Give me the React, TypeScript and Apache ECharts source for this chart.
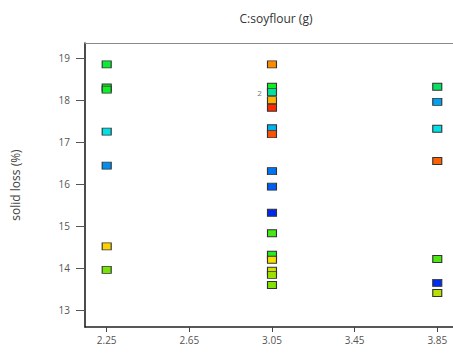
import React, { useEffect, useRef } from "react";
import * as echarts from "echarts";

// soy flour levels (g)
const xTicks = [2.25, 2.65, 3.05, 3.45, 3.85];
const yTicks = [13, 14, 15, 16, 17, 18, 19];

// observed solid loss (%) at each soy flour level
const soyflour = [
  2.25, 2.25, 2.25, 2.25, 2.25, 2.25, 2.25,
  3.05, 3.05, 3.05, 3.05, 3.05, 3.05, 3.05, 3.05, 3.05, 3.05, 3.05, 3.05, 3.05, 3.05, 3.05, 3.05,
  3.85, 3.85, 3.85, 3.85, 3.85, 3.85, 3.85,
];
const solidLoss = [
  18.85, 18.3, 18.25, 17.25, 16.44, 14.52, 13.96,
  18.85, 18.32, 18.19, 18.0, 17.82, 17.33, 17.19, 16.31, 15.94, 15.32, 14.83, 14.32, 14.2, 13.94, 13.84, 13.6,
  18.32, 17.96, 17.32, 16.55, 14.22, 13.65, 13.41,
];
// colour-coded response level (0 = low / blue, 1 = high / red)
const colourLevel = [
  0.47, 0.49, 0.49, 0.26, 0.16, 0.77, 0.6,
  0.86, 0.5, 0.33, 0.81, 0.97, 0.2, 0.93, 0.13, 0.1, 0.03, 0.55, 0.52, 0.74, 0.7, 0.64, 0.61,
  0.4, 0.18, 0.26, 0.91, 0.56, 0.04, 0.67,
];
// replicate counts (shown when > 1)
const replicates = [
  1, 1, 1, 1, 1, 1, 1,
  1, 1, 2, 1, 1, 1, 1, 1, 1, 1, 1, 1, 1, 1, 1, 1,
  1, 1, 1, 1, 1, 1, 1,
];

const FONT = "'Open Sans', 'Noto Sans', sans-serif";
const X_MIN = 2.145;
const X_MAX = 3.96;

export default function App() {
  const ref = useRef<HTMLDivElement>(null);
  useEffect(() => {
    if (!ref.current) return;
    document.body.style.overflow = "hidden";
    const chart = echarts.init(ref.current, undefined, { renderer: "svg" });
    const data = soyflour.map((x, i) => {
      const item: any = { value: [x, solidLoss[i], colourLevel[i]] };
      if (replicates[i] > 1) {
        item.label = {
          show: true,
          position: "left",
          distance: 5,
          formatter: String(replicates[i]),
          fontSize: 8,
          color: "#777",
          fontFamily: FONT,
        };
      }
      return item;
    });
    chart.setOption({
      animation: false,
      backgroundColor: "#ffffff",
      title: {
        text: "C:soyflour (g)",
        left: 271,
        textAlign: "center",
        top: 7,
        textStyle: { fontSize: 12, fontWeight: "normal", color: "#333", fontFamily: FONT },
      },
      grid: {
        left: 85,
        right: 0,
        top: 43,
        bottom: 27,
        show: false,
      },
      visualMap: {
        show: false,
        dimension: 2,
        min: 0,
        max: 1,
        inRange: {
          color: [
            "#0010f0",
            "#0070f0",
            "#00e0f0",
            "#00e070",
            "#10f020",
            "#90e000",
            "#ffe000",
            "#ff8000",
            "#ff1000",
          ],
        },
      },
      xAxis: [
        {
          type: "value",
          min: X_MIN,
          max: X_MAX,
          splitLine: { show: false },
          axisLine: { show: true, onZero: false, lineStyle: { color: "#222", width: 1.5 } },
          axisTick: { show: true, length: 5, customValues: xTicks, lineStyle: { color: "#444" } },
          axisLabel: {
            customValues: xTicks,
            formatter: (v: number) => v.toFixed(2),
            color: "#555",
            fontSize: 10,
            margin: 8,
            fontFamily: FONT,
          },
        },
        {
          type: "value",
          position: "top",
          min: X_MIN,
          max: X_MAX,
          splitLine: { show: false },
          axisLine: { show: true, onZero: false, lineStyle: { color: "#8a8a8a", width: 1 } },
          axisTick: { show: false },
          axisLabel: { show: false },
        },
      ],
      yAxis: {
        type: "value",
        min: 12.6,
        max: 19.36,
        name: "solid loss (%)",
        nameLocation: "middle",
        nameGap: 64,
        nameTextStyle: { fontSize: 12, color: "#444", fontFamily: FONT },
        splitLine: { show: false },
        axisLine: { show: true, onZero: false, lineStyle: { color: "#111", width: 1.5 } },
        axisTick: { show: true, length: 9, customValues: yTicks, lineStyle: { color: "#555" } },
        axisLabel: {
          customValues: yTicks,
          color: "#555",
          fontSize: 10,
          margin: 15,
          fontFamily: FONT,
        },
      },
      series: [
        {
          type: "scatter",
          xAxisIndex: 0,
          symbol: "rect",
          symbolSize: [9, 7],
          itemStyle: { borderColor: "#333", borderWidth: 1, opacity: 1 },
          data,
        },
      ],
    });
    return () => chart.dispose();
  }, []);
  return <div ref={ref} style={{ width: 460, height: 354, position: "absolute", left: 0, top: 0 }} />;
}
